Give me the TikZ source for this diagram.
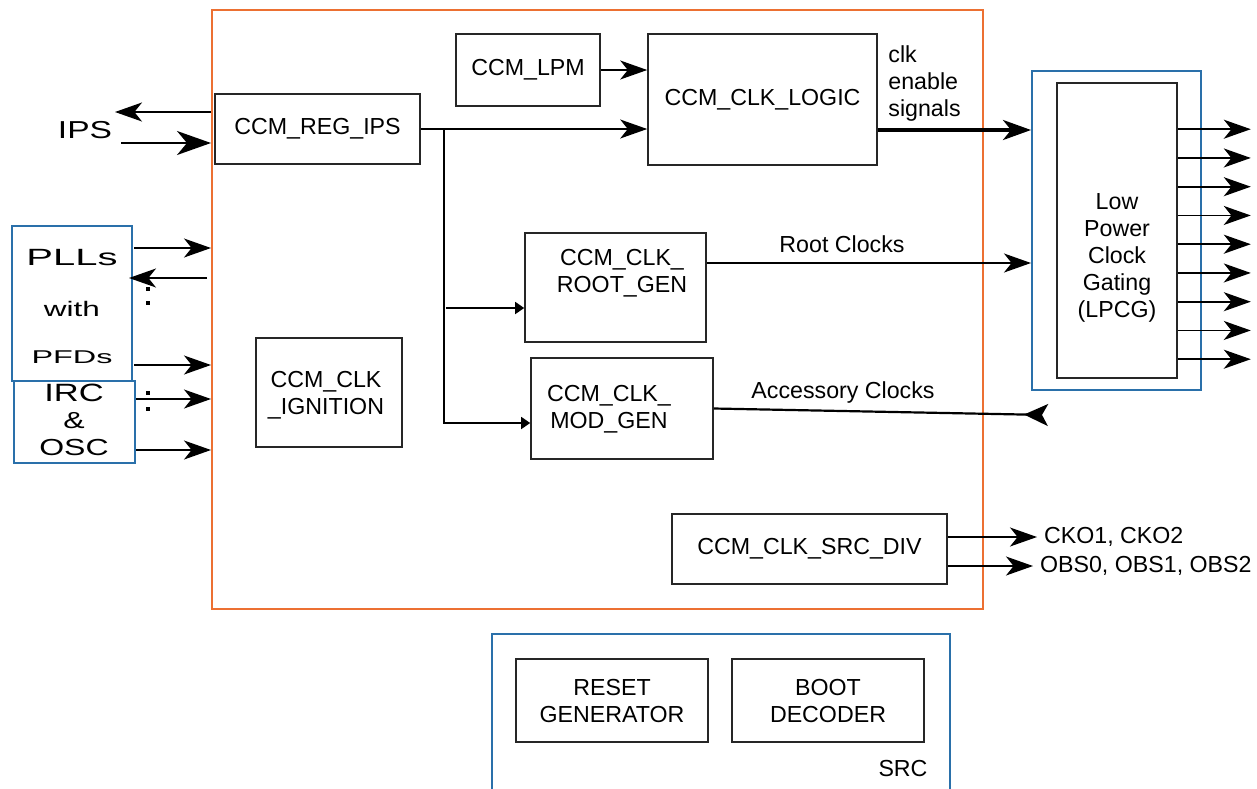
\documentclass[tikz,border=0pt]{standalone}
\usepackage{fontspec}
\setmainfont{Liberation Sans}
\usetikzlibrary{arrows.meta,fit,calc}
\definecolor{ccmorange}{RGB}{236,112,50}
\definecolor{srcblue}{RGB}{42,112,170}
\begin{document}
\begin{tikzpicture}[x=0.5pt,y=-0.5pt,
  every node/.style={font=\fontsize{11.6}{13.5}\selectfont},
  blk/.style={draw=black!85, line width=0.8pt, inner sep=0pt},
  ccmframe/.style={draw=ccmorange, line width=1pt, inner sep=0pt},
  blueframe/.style={draw=srcblue, line width=1pt, inner sep=0pt},
  arr/.style={line width=0.8pt, -{Stealth[length=13.5pt,width=9.5pt,inset=3.8pt]}},
  bigarr/.style={line width=1pt, -{Stealth[length=17pt,width=12pt,inset=5pt]}},
  thickarr/.style={line width=1.75pt, -{Stealth[length=14pt,width=10pt,inset=4pt]}},
  accarr/.style={line width=1.1pt, -{Stealth[length=12pt,width=11pt,inset=3pt,reversed]}},
  tri/.style={line width=0.8pt, -{Triangle[length=4.5pt,width=6pt]}},
  dot/.style={fill=black, rectangle, inner sep=0pt, minimum size=1.6pt},
  lbl/.style={inner sep=0pt, align=center}
]
\useasboundingbox (0,0) rectangle (1257,788);

% main CCM frame
\node[ccmframe, fit={(212,10) (983,609)}] (ccm) {};

% inner blocks
\node[blk, fit={(215,94) (420,164)}] (reg) {};
\node[lbl] (regtxt) at (reg.center) {CCM\_REG\_IPS};
\node[blk, fit={(456,34) (600,106)}] (lpm) {};
\node[lbl] (lpmtxt) at (lpm.center) {CCM\_LPM};
\node[blk, fit={(648,34) (877,165)}] (logic) {};
\node[lbl] (logictxt) at (logic.center) {CCM\_CLK\_LOGIC};
\node[blk, fit={(525,233) (706,342)}] (rootgen) {};
\node[lbl] (rootgentxt) at (622,273) {CCM\_CLK\_\\ROOT\_GEN};
\node[blk, fit={(531,358) (713,459)}] (modgen) {};
\node[lbl] (modgentxt) at (609,409) {CCM\_CLK\_\\MOD\_GEN};
\node[blk, fit={(256,338) (402,447)}] (ign) {};
\node[lbl] (igntxt) at (326,395) {CCM\_CLK\\\_IGNITION};
\node[blk, fit={(672,514) (947,584)}] (srcdiv) {};
\node[lbl] (srcdivtxt) at (srcdiv.center) {CCM\_CLK\_SRC\_DIV};

% LPCG
\node[blueframe, fit={(1032,71) (1201,390)}] (lpcgouter) {};
\node[blk, fit={(1057,83) (1177,378)}] (lpcg) {};
\node[lbl] (lpcgtxt) at (1117,258) {Low\\Power\\Clock\\Gating\\(LPCG)};

% SRC
\draw[srcblue, line width=1pt] (492,790) -- (492,634) -- (950,634) -- (950,790);
\node[blk, fit={(516,659) (708,742)}] (reset) {};
\node[lbl] (resettxt) at (reset.center) {RESET\\GENERATOR};
\node[blk, fit={(732,659) (924,742)}] (boot) {};
\node[lbl] (boottxt) at (boot.center) {BOOT\\DECODER};
\node[lbl] (srctxt) at (903,768) {SRC};

% left sources
\node[blueframe, fit={(12,226) (132,381)}] (pll) {};
\node[lbl] (pllA) at (72,258) {\fontsize{11.75}{13}\selectfont\scalebox{1.7}[1]{PLLs}};
\node[lbl] (pllB) at (72,309) {\fontsize{10.5}{13}\selectfont\scalebox{1.5}[1]{with}};
\node[lbl] (pllC) at (72,357) {\fontsize{9.25}{13}\selectfont\scalebox{1.75}[1]{PFDs}};
\node[blueframe, fit={(14,381) (135,463)}] (irc) {};
\node[lbl] (irctxt) at (74,420) {\fontsize{12.5}{11.8}\selectfont\scalebox{1.38}[1]{IRC}\\\scalebox{1.38}[1]{\&}\\\scalebox{1.38}[1]{OSC}};
\node[lbl] (ips) at (85,130) {\fontsize{12.25}{14}\selectfont\scalebox{1.37}[1]{IPS}};

% dots
\node[dot] (d1) at (148,289) {};
\node[dot] (d2) at (148,303) {};
\node[dot] (d3) at (148,393) {};
\node[dot] (d4) at (148,409) {};

% IPS arrows
\coordinate (i1) at ($(ips)+(30,-18)$);
\coordinate (i2) at ($(ips)+(36,13)$);
\draw[arr] (i1 -| ccm.west) -- (i1);
\draw[bigarr] (i2) -- (i2 -| ccm.west);

% PLL / IRC arrows
\coordinate (p1) at ($(pll.east)+(1,-55.5)$);
\coordinate (p2) at ($(pll.east)+(-4,-25.5)$);
\coordinate (p3) at ($(pll.east)+(1,61.5)$);
\coordinate (q1) at ($(irc.east)+(0,-23)$);
\coordinate (q2) at ($(irc.east)+(0,28)$);
\draw[arr] (p1) -- (p1 -| ccm.west);
\draw[arr] ([xshift=-2pt]p2 -| ccm.west) -- (p2);
\draw[arr] (p3) -- (p3 -| ccm.west);
\draw[arr] (q1) -- (q1 -| ccm.west);
\draw[arr] (q2) -- (q2 -| ccm.west);

% internal connections
\draw[arr] (lpm.east) -- (lpm.east -| logic.west);
\draw[arr] (reg.east) -- (reg.east -| logic.west);
\coordinate (j) at ($(reg.east)+(23,-1)$);
\coordinate (mgin) at ($(modgen.west)+(0,14.5)$);
\coordinate (rgin) at ($(rootgen.west)+(0,20.5)$);
\draw[tri] (j) |- (mgin);
\draw[tri] ([xshift=1pt]rgin -| j) -- (rgin);

% outputs
\coordinate (c1) at ($(logic.east)+(0,30.5)$);
\draw[thickarr] (c1) -- (c1 -| lpcgouter.west);
\node[lbl, align=left, anchor=west] (clktxt) at (888,83) {clk\\enable\\signals};

\coordinate (r1) at ($(rootgen.east)+(0,-24.5)$);
\draw[arr] (r1) -- (r1 -| lpcgouter.west);
\node[lbl] (roottxt) at (842,244) {Root Clocks};

\coordinate (aend) at (1048,415);
\draw[accarr] (modgen.east) -- (aend);
\node[lbl] (acctxt) at (843,392) {Accessory Clocks};

\foreach \k in {0,...,8} {
  \coordinate (o\k) at ($(lpcg.north east)+(0,47+28.75*\k)$);
  \draw[arr] (o\k) -- ++(73,0);
}

\node[anchor=west] (cko) at (1037,537) {CKO1, CKO2};
\node[anchor=west] (obs) at (1033,566) {OBS0, OBS1, OBS2};
\draw[arr] (srcdiv.east |- cko.west) -- (cko.west);
\draw[arr] (srcdiv.east |- obs.west) -- (obs.west);
\end{tikzpicture}
\end{document}
